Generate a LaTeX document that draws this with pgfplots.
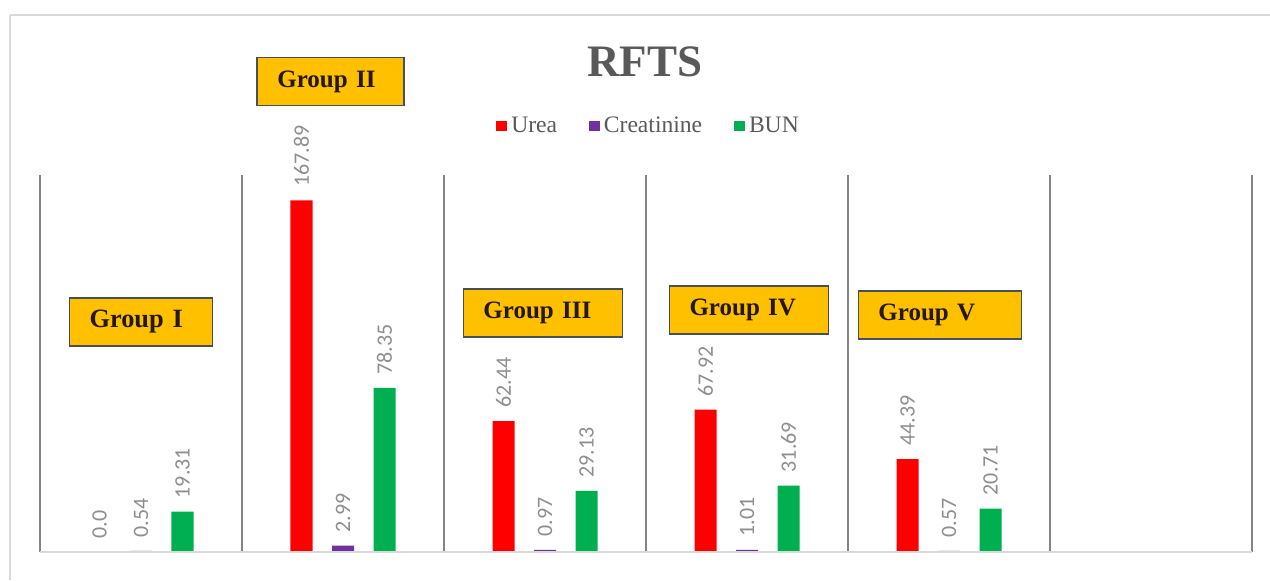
\documentclass[border=0pt]{standalone}
\usepackage{fontspec}
\setmainfont{Liberation Serif}
\newfontfamily\carlito{Carlito}
\usepackage{pgfplots}
\pgfplotsset{compat=1.18}
\definecolor{cUrea}{HTML}{FF0000}
\definecolor{cCrea}{HTML}{7030A0}
\definecolor{cBun}{HTML}{00B050}
\definecolor{titlegray}{HTML}{595959}
\definecolor{lblgray}{HTML}{8E8E8E}
\definecolor{gridgray}{HTML}{858585}
\definecolor{basegray}{HTML}{D9D9D9}
\definecolor{boxfill}{HTML}{FFC000}
\definecolor{boxdraw}{HTML}{46505C}
\definecolor{boxtext}{HTML}{241800}
\begin{document}
\begin{tikzpicture}
\begin{axis}[
  at={(0pt,0pt)}, anchor=south west,
  width=606pt, height=188.5pt, scale only axis,
  xmin=-0.5, xmax=5.5, ymin=0, ymax=180,
  clip=false,
  axis line style={draw=none},
  tick style={draw=none},
  xtick={-0.5,0.5,1.5,2.5,3.5,4.5,5.5},
  xticklabels={},
  ytick=\empty,
  xmajorgrids,
  major grid style={draw=gridgray, line width=1pt},
  ybar,
  bar width=11pt,
  point meta=explicit symbolic,
  nodes near coords,
  every node near coord/.append style={rotate=90, anchor=west, inner xsep=6.5pt,
     font=\carlito\fontsize{11}{13}\selectfont, text=lblgray},
  legend image code/.code={\path[#1] (0pt,-2.7pt) rectangle (5.4pt,2.7pt);},
  legend style={at={(0.503,1.13)}, anchor=center, draw=none, fill=none,
     legend columns=3, font=\fontsize{11.8}{13}\selectfont, text=titlegray,
     /tikz/every even column/.append style={column sep=14pt},
     /tikz/every odd column/.append style={column sep=0pt},
     inner sep=0pt},
]
\addplot[fill=cUrea, draw=none, bar shift=-20.75pt] table[meta=label] {
x y label
0 0 0.0
1 167.89 167.89
2 62.44 62.44
3 67.92 67.92
4 44.39 44.39
};
\addplot[fill=cCrea, draw=none, bar shift=0pt] table[meta=label] {
x y label
0 0.54 0.54
1 2.99 2.99
2 0.97 0.97
3 1.01 1.01
4 0.57 0.57
};
\addplot[fill=cBun, draw=none, bar shift=20.75pt] table[meta=label] {
x y label
0 19.31 19.31
1 78.35 78.35
2 29.13 29.13
3 31.69 31.69
4 20.71 20.71
};
\legend{Urea, Creatinine, BUN}
\draw[basegray, line width=0.8pt] (axis cs:-0.5,0) -- (axis cs:5.5,0);
\node[text=titlegray, font=\bfseries\fontsize{22.5}{26}\selectfont] at (axis description cs:0.499,1.30) {RFTS};
\tikzset{grp/.style={fill=boxfill, draw=boxdraw, line width=0.9pt, text=boxtext,
  font=\bfseries\fontsize{12.5}{14}\selectfont, minimum height=24pt, inner xsep=10pt, align=left}}
\node[grp, text width=51.5pt, font=\bfseries\fontsize{13.2}{14}\selectfont] at (axis cs:0.0,109.9) {Group I};
\node[grp, text width=53.5pt] at (axis cs:0.94,224.6) {Group II};
\node[grp, text width=59.5pt] at (axis cs:1.99,114.0) {Group III};
\node[grp, text width=59.5pt] at (axis cs:3.01,115.4) {Group IV};
\node[grp, text width=61.5pt] at (axis cs:3.955,113.0) {Group V};
\end{axis}
\draw[basegray, line width=0.8pt] (-15pt,268.5pt) -- (615pt,268.5pt);
\draw[basegray, line width=0.8pt] (-15pt,268.5pt) -- (-15pt,-14pt);
\pgfresetboundingbox
\path[use as bounding box] (-20pt,-14pt) rectangle (615pt,276pt);
\end{tikzpicture}
\end{document}
